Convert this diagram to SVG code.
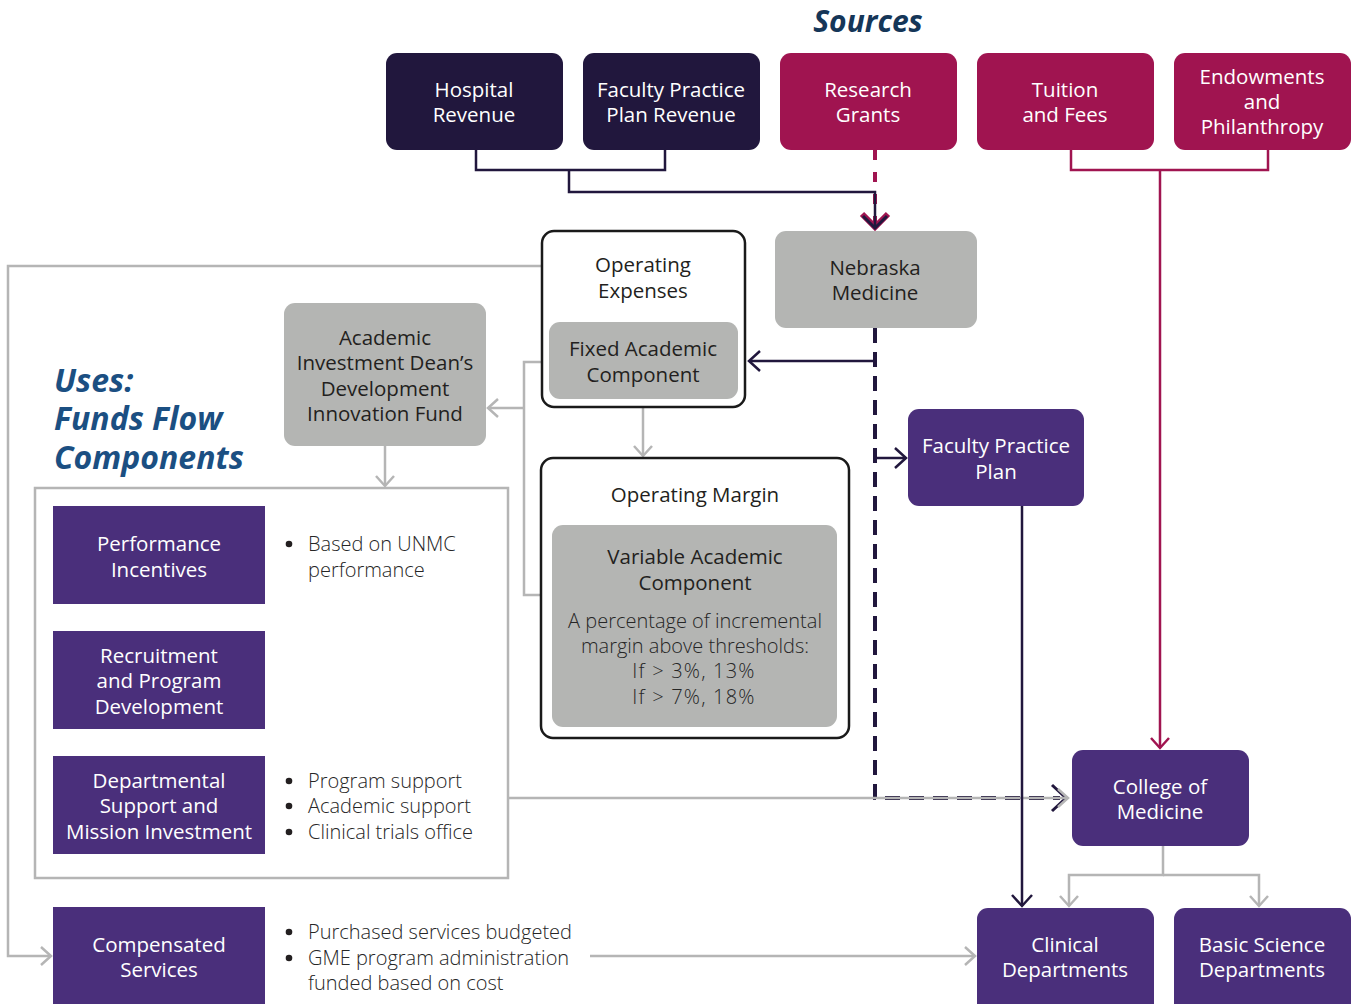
<svg xmlns="http://www.w3.org/2000/svg" width="1353" height="1004" viewBox="0 0 1353 1004">
  <style>
    text { font-family: "Open Sans", "Noto Sans", "Liberation Sans", sans-serif; font-size: 20.5px; text-anchor: middle; }
    .wt { fill: #ffffff; }
    .dk { fill: #231f20; }
    .lt { fill: #262626; font-weight: 300; font-size: 20px; }
    .bl { fill: #262626; font-weight: 300; font-size: 20px; text-anchor: start; }
    .dot { fill: #231f20; }
    .ttl { font-weight: 700; font-style: italic; text-anchor: start; font-size: 32px; fill: #1b4f82; }
    .navy { fill: #21173d; }
    .mag { fill: #a01450; }
    .pur { fill: #4a2f7b; }
    .gry { fill: #b4b5b3; }
    .frame { fill: #ffffff; stroke: #1a1a1a; stroke-width: 2.5; }
    .gl { fill: none; stroke: #b5b5b5; stroke-width: 2.5; }
    .nl { fill: none; stroke: #21173d; stroke-width: 2.5; }
    .ml { fill: none; stroke: #a01450; stroke-width: 2.5; }
  </style>
  <defs>
    <marker id="ah-gray" viewBox="0 0 24 24" refX="20" refY="12" markerWidth="24" markerHeight="24" markerUnits="userSpaceOnUse" orient="auto">
      <path d="M10,3 L20,12 L10,21" fill="none" stroke="#b5b5b5" stroke-width="2.5"/>
    </marker>
    <marker id="ah-navy" viewBox="0 0 30 30" refX="25" refY="15" markerWidth="30" markerHeight="30" markerUnits="userSpaceOnUse" orient="auto">
      <path d="M13,3 L25,15 L13,27" fill="none" stroke="#21173d" stroke-width="3"/>
    </marker>
    <marker id="ah-navy-s" viewBox="0 0 24 24" refX="20" refY="12" markerWidth="24" markerHeight="24" markerUnits="userSpaceOnUse" orient="auto">
      <path d="M9,2 L20,12 L9,22" fill="none" stroke="#21173d" stroke-width="2.5"/>
    </marker>
    <marker id="ah-mag" viewBox="0 0 24 24" refX="20" refY="12" markerWidth="24" markerHeight="24" markerUnits="userSpaceOnUse" orient="auto">
      <path d="M10,3 L20,12 L10,21" fill="none" stroke="#a01450" stroke-width="2.5"/>
    </marker>
  </defs>

  <rect width="1353" height="1004" fill="#ffffff"/>

  <!-- headings -->
  <text x="868" y="32" class="ttl" style="font-size:30px;text-anchor:middle;fill:#153658">Sources</text>
  <text x="54" y="392" class="ttl">Uses:</text>
  <text x="54" y="430" class="ttl">Funds Flow</text>
  <text x="54" y="469" class="ttl">Components</text>

  <!-- connectors -->
  <g id="connectors">
    <!-- big gray loop from Operating Expenses to Compensated Services -->
    <path class="gl" d="M542,266 H8 V956 H51" marker-end="url(#ah-gray)"/>
    <!-- Fixed Academic / Variable Academic to Dean's fund -->
    <path class="gl" d="M549,362 H524 V595 H552"/>
    <path class="gl" d="M524,408 H488" marker-end="url(#ah-gray)"/>
    <!-- Dean's fund to uses frame -->
    <path class="gl" d="M385,446 V486" marker-end="url(#ah-gray)"/>
    <!-- Operating Expenses to Operating Margin -->
    <path class="gl" d="M643,407 V456" marker-end="url(#ah-gray)"/>

    <!-- Nebraska Medicine dashed distribution -->
    <path d="M875,328 V798 H1060" fill="none" stroke="#21173d" stroke-width="4" stroke-dasharray="15 9"/>
    <path class="nl" d="M1052,785 L1066,798 L1052,811" style="stroke-width:3"/>
    <!-- uses frame to College of Medicine -->
    <path class="gl" d="M509,798 H1068" marker-end="url(#ah-gray)"/>
    <!-- Nebraska Medicine to Fixed Academic Component -->
    <path class="nl" d="M875,361 H749" marker-end="url(#ah-navy-s)"/>
    <!-- Nebraska Medicine to Faculty Practice Plan -->
    <path class="nl" d="M875,458 H906" marker-end="url(#ah-navy-s)"/>
    <!-- Faculty Practice Plan to Clinical Departments -->
    <path class="nl" d="M1022,506 V906" marker-end="url(#ah-navy-s)"/>

    <!-- College of Medicine to departments -->
    <path class="gl" d="M1163,846 V875 H1069 V906" marker-end="url(#ah-gray)"/>
    <path class="gl" d="M1163,875 H1259 V906" marker-end="url(#ah-gray)"/>
    <!-- Compensated Services to Clinical Departments -->
    <path class="gl" d="M590,956 H975" marker-end="url(#ah-gray)"/>

    <!-- sources: hospital + faculty practice revenue -->
    <path class="nl" d="M476,150 V170 H665 V150"/>
    <!-- research grants dashed -->
    <path d="M875,150 V222" fill="none" stroke="#a01450" stroke-width="4" stroke-dasharray="10 12"/>
    <path d="M862,214 L875,227 L888,214" fill="none" stroke="#a01450" stroke-width="6"/>
    <path class="nl" d="M569,170 V192 H875 V228" marker-end="url(#ah-navy)"/>
    <!-- tuition + endowments to College of Medicine -->
    <path class="ml" d="M1071,150 V170 H1268 V150"/>
    <path class="ml" d="M1160,170 V748" marker-end="url(#ah-mag)"/>
  </g>

  <!-- source nodes -->
  <g id="hospital-revenue">
    <rect x="386" y="53" width="177" height="97" rx="11" class="navy"/>
    <text x="474" y="97" class="wt">Hospital</text>
    <text x="474" y="122" class="wt">Revenue</text>
  </g>
  <g id="fpp-revenue">
    <rect x="583" y="53" width="177" height="97" rx="11" class="navy"/>
    <text x="671" y="97" class="wt">Faculty Practice</text>
    <text x="671" y="122" class="wt">Plan Revenue</text>
  </g>
  <g id="research-grants">
    <rect x="780" y="53" width="177" height="97" rx="11" class="mag"/>
    <text x="868" y="97" class="wt">Research</text>
    <text x="868" y="122" class="wt">Grants</text>
  </g>
  <g id="tuition-fees">
    <rect x="977" y="53" width="177" height="97" rx="11" class="mag"/>
    <text x="1065" y="97" class="wt">Tuition</text>
    <text x="1065" y="122" class="wt">and Fees</text>
  </g>
  <g id="endowments">
    <rect x="1174" y="53" width="177" height="97" rx="11" class="mag"/>
    <text x="1262" y="84" class="wt">Endowments</text>
    <text x="1262" y="109" class="wt">and</text>
    <text x="1262" y="134" class="wt">Philanthropy</text>
  </g>

  <!-- middle nodes -->
  <g id="nebraska-medicine">
    <rect x="775" y="231" width="202" height="97" rx="11" class="gry"/>
    <text x="875" y="275" class="dk">Nebraska</text>
    <text x="875" y="300" class="dk">Medicine</text>
  </g>
  <g id="operating-expenses">
    <rect x="542" y="231" width="203" height="176" rx="12" class="frame"/>
    <text x="643" y="272" class="dk">Operating</text>
    <text x="643" y="298" class="dk">Expenses</text>
  </g>
  <g id="fixed-academic">
    <rect x="549" y="322" width="189" height="77" rx="11" class="gry"/>
    <text x="643" y="356" class="dk">Fixed Academic</text>
    <text x="643" y="382" class="dk">Component</text>
  </g>
  <g id="deans-fund">
    <rect x="284" y="303" width="202" height="143" rx="11" class="gry"/>
    <text x="385" y="345" class="dk">Academic</text>
    <text x="385" y="370" class="dk">Investment Dean’s</text>
    <text x="385" y="396" class="dk">Development</text>
    <text x="385" y="421" class="dk">Innovation Fund</text>
  </g>
  <g id="faculty-practice-plan">
    <rect x="908" y="409" width="176" height="97" rx="11" class="pur"/>
    <text x="996" y="453" class="wt">Faculty Practice</text>
    <text x="996" y="479" class="wt">Plan</text>
  </g>
  <g id="operating-margin">
    <rect x="541" y="458" width="308" height="280" rx="12" class="frame"/>
    <text x="695" y="502" class="dk">Operating Margin</text>
  </g>
  <g id="variable-academic">
    <rect x="552" y="525" width="285" height="202" rx="11" class="gry"/>
    <text x="695" y="564" class="dk">Variable Academic</text>
    <text x="695" y="590" class="dk">Component</text>
    <text x="695" y="628" class="lt">A percentage of incremental</text>
    <text x="695" y="653" class="lt">margin above thresholds:</text>
    <text x="694" y="678" class="lt" style="letter-spacing:1.2px">If &gt; 3%, 13%</text>
    <text x="694" y="704" class="lt" style="letter-spacing:1.2px">If &gt; 7%, 18%</text>
  </g>

  <!-- uses -->
  <g id="uses-frame">
    <rect x="35" y="488" width="473" height="390" fill="#ffffff" stroke="#b5b5b5" stroke-width="2.5"/>
  </g>
  <g id="performance-incentives">
    <rect x="53" y="506" width="212" height="98" class="pur"/>
    <text x="159" y="551" class="wt">Performance</text>
    <text x="159" y="577" class="wt">Incentives</text>
    <circle cx="289" cy="544" r="3.3" class="dot"/>
    <text x="308" y="551" class="bl">Based on UNMC</text>
    <text x="308" y="577" class="bl">performance</text>
  </g>
  <g id="recruitment">
    <rect x="53" y="631" width="212" height="98" class="pur"/>
    <text x="159" y="663" class="wt">Recruitment</text>
    <text x="159" y="688" class="wt">and Program</text>
    <text x="159" y="714" class="wt">Development</text>
  </g>
  <g id="departmental-support">
    <rect x="53" y="756" width="212" height="98" class="pur"/>
    <text x="159" y="788" class="wt">Departmental</text>
    <text x="159" y="813" class="wt">Support and</text>
    <text x="159" y="839" class="wt">Mission Investment</text>
    <circle cx="289" cy="781" r="3.3" class="dot"/>
    <text x="308" y="788" class="bl">Program support</text>
    <circle cx="289" cy="806" r="3.3" class="dot"/>
    <text x="308" y="813" class="bl">Academic support</text>
    <circle cx="289" cy="832" r="3.3" class="dot"/>
    <text x="308" y="839" class="bl">Clinical trials office</text>
  </g>
  <g id="compensated-services">
    <rect x="53" y="907" width="212" height="100" class="pur"/>
    <text x="159" y="952" class="wt">Compensated</text>
    <text x="159" y="977" class="wt">Services</text>
    <circle cx="289" cy="932" r="3.3" class="dot"/>
    <text x="308" y="939" class="bl">Purchased services budgeted</text>
    <circle cx="289" cy="958" r="3.3" class="dot"/>
    <text x="308" y="965" class="bl">GME program administration</text>
    <text x="308" y="990" class="bl">funded based on cost</text>
  </g>

  <!-- recipients -->
  <g id="college-of-medicine">
    <rect x="1072" y="750" width="177" height="96" rx="11" class="pur"/>
    <text x="1160" y="794" class="wt">College of</text>
    <text x="1160" y="819" class="wt">Medicine</text>
  </g>
  <g id="clinical-departments">
    <rect x="977" y="908" width="177" height="106" rx="11" class="pur"/>
    <text x="1065" y="952" class="wt">Clinical</text>
    <text x="1065" y="977" class="wt">Departments</text>
  </g>
  <g id="basic-science-departments">
    <rect x="1174" y="908" width="177" height="106" rx="11" class="pur"/>
    <text x="1262" y="952" class="wt">Basic Science</text>
    <text x="1262" y="977" class="wt">Departments</text>
  </g>
</svg>
